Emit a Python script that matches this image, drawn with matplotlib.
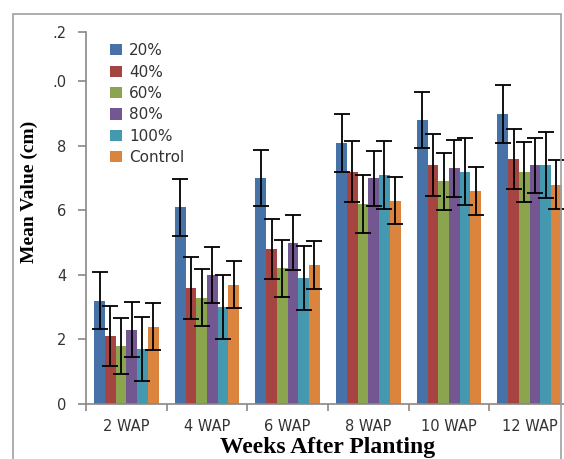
import matplotlib
matplotlib.use("Agg")
import matplotlib.pyplot as plt
import numpy as np
from matplotlib.patches import Rectangle

categories = ["2 WAP", "4 WAP", "6 WAP", "8 WAP", "10 WAP", "12 WAP"]
series_names = ["20%", "40%", "60%", "80%", "100%", "Control"]
v20 = [3.2, 6.1, 7.0, 8.1, 8.8, 9.0]
v40 = [2.1, 3.6, 4.8, 7.2, 7.4, 7.6]
v60 = [1.8, 3.3, 4.2, 6.2, 6.9, 7.2]
v80 = [2.3, 4.0, 5.0, 7.0, 7.3, 7.4]
v100 = [1.7, 3.0, 3.9, 7.1, 7.2, 7.4]
vctl = [2.4, 3.7, 4.3, 6.3, 6.6, 6.8]
e20 = [0.88, 0.88, 0.87, 0.90, 0.88, 0.90]
e40 = [0.93, 0.95, 0.92, 0.95, 0.96, 0.93]
e60 = [0.88, 0.89, 0.89, 0.89, 0.88, 0.93]
e80 = [0.85, 0.88, 0.86, 0.85, 0.88, 0.86]
e100 = [1.0, 1.0, 1.0, 1.05, 1.04, 1.03]
ectl = [0.74, 0.74, 0.75, 0.73, 0.75, 0.75]
y_ticks = [0, 2, 4, 6, 8, 10, 11.53]
y_ticklabels = ["0", "2", "4", "6", "8", ".0", ".2"]

values = [v20, v40, v60, v80, v100, vctl]
errors = [e20, e40, e60, e80, e100, ectl]
colors = ["#4672A8", "#A64441", "#8AA54D", "#725790", "#4499B1", "#DB843E"]

W, H = 564, 459
fig = plt.figure(figsize=(W / 100, H / 100), dpi=100)
fig.patches.append(Rectangle((13 / W, -0.1), (561 - 13) / W, (459 - 14) / H + 0.1,
                             transform=fig.transFigure, fill=False,
                             edgecolor="#A0A0A0", linewidth=1.2))

ax = fig.add_axes([86 / W, (H - 404) / H, (570 - 86) / W, (404 - 32) / H])

x = np.arange(len(categories))
bw = 0.133
n = len(series_names)
for i in range(n):
    pos = x + (i - (n - 1) / 2) * bw
    ax.bar(pos, values[i], width=bw, color=colors[i], label=series_names[i],
           edgecolor="none", zorder=2)
    ax.errorbar(pos, values[i], yerr=errors[i], fmt="none", ecolor="black",
                elinewidth=1.3, capsize=6, capthick=1.3, zorder=3)

ax.set_xlim(-0.5, len(categories) - 0.5)
ax.set_ylim(0, 11.53)
ax.set_yticks(y_ticks)
ax.set_yticklabels(y_ticklabels, fontsize=10.5, color="#333333")
ax.set_xticks(x)
ax.set_xticklabels(categories, fontsize=10.5, color="#333333")
ax.tick_params(axis="x", length=0, pad=11)
ax.set_xticks(np.arange(-0.5, len(categories), 1), minor=True)
ax.tick_params(axis="x", which="minor", length=5, color="#888888", width=1.2)
ax.tick_params(axis="y", length=6, color="#888888", width=1.2, pad=8)

for s in ["top", "right"]:
    ax.spines[s].set_visible(False)
for s in ["left", "bottom"]:
    ax.spines[s].set_color("#888888")
    ax.spines[s].set_linewidth(1.2)

ax.set_ylabel("Mean Value (cm)", fontsize=14, fontweight="bold",
              family="Liberation Serif")
ax.yaxis.set_label_coords(-0.099, 0.57)
ax.set_xlabel("Weeks After Planting", fontsize=17, fontweight="bold",
              family="Liberation Serif")
ax.xaxis.set_label_coords(0.5, -0.09)
ax.xaxis.label.set_va("top")

leg = ax.legend(loc="upper left", bbox_to_anchor=(18 / 484, 1 - 5 / 372),
                frameon=False, fontsize=11, handlelength=0.75, handleheight=0.75,
                handletextpad=0.5, labelspacing=0.42, borderaxespad=0)
for t in leg.get_texts():
    t.set_color("#333333")

fig.savefig("out.png", dpi=100)
